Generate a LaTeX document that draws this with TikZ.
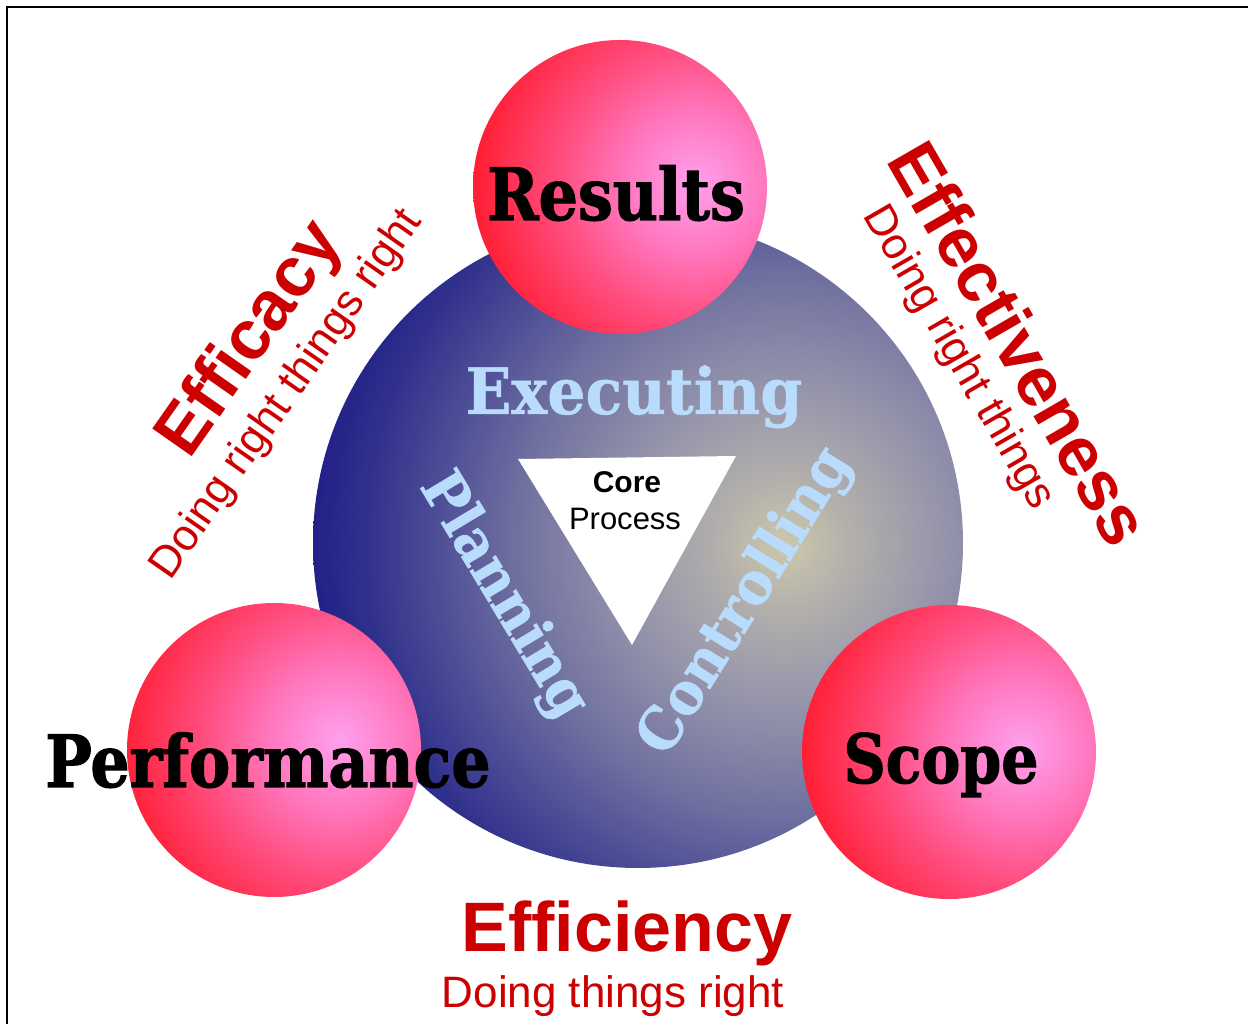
\documentclass[tikz,border=0pt]{standalone}
\usepackage{fontspec}
\setmainfont{Liberation Sans}
\newfontfamily\slabfont[FakeStretch=0.86,FakeBold=1.5]{DejaVu Serif}
\newfontfamily\slabwidefont[FakeStretch=0.94,FakeBold=0.8]{DejaVu Serif}

\definecolor{wordred}{RGB}{204,0,0}
\definecolor{wordblue}{RGB}{185,220,252}
% red balls
\definecolor{ballhi}{RGB}{255,160,238}
\definecolor{ballmid}{RGB}{255,118,188}
\definecolor{balllow}{RGB}{255,78,128}
\definecolor{ballred}{RGB}{255,28,48}
% the big hub
\definecolor{hubA}{RGB}{205,200,170}
\definecolor{hubB}{RGB}{178,175,172}
\definecolor{hubC}{RGB}{145,144,170}
\definecolor{hubD}{RGB}{112,112,160}
\definecolor{hubE}{RGB}{75,75,150}
\definecolor{hubF}{RGB}{48,48,140}
\definecolor{hubG}{RGB}{30,30,135}

\pgfdeclareradialshading{redball}{\pgfpoint{0bp}{0bp}}{color(0bp)=(ballhi); color(8bp)=(ballmid); color(15bp)=(balllow); color(25bp)=(ballred); color(50bp)=(ballred)}
\pgfdeclareradialshading{hubball}{\pgfpoint{0bp}{0bp}}{color(0bp)=(hubA); color(3.5bp)=(hubB); color(9bp)=(hubC); color(14bp)=(hubD); color(18.5bp)=(hubE); color(22bp)=(hubF); color(25bp)=(hubG); color(50bp)=(hubG)}

\tikzset{
  ballword/.style={inner sep=0pt, text=black, font=\slabfont\bfseries\fontsize{72bp}{80bp}\selectfont},
  stageword/.style={inner sep=0pt, text=wordblue, font=\slabwidefont\bfseries\fontsize{58bp}{64bp}\selectfont},
  headword/.style={inner sep=0pt, text=wordred, font=\bfseries\fontsize{70bp}{76bp}\selectfont},
  motto/.style={inner sep=0pt, text=wordred, font=\fontsize{44bp}{48bp}\selectfont}
}

\begin{document}
\begin{tikzpicture}[x=1bp,y=1bp]
        \useasboundingbox (0,0) rectangle (1248,1024);
        \draw [line width=2.4bp] (7,0) -- (7,1017) -- (1248,1017);

        % hub with its light spot on the right
        \begin{scope}
          \clip (638,481) circle (325);
          \shade [shading=hubball] (785,479) circle (480);
        \end{scope}
        \fill [white] (518,565) -- (736,568) -- (632,379) -- cycle;

        % balls
        \begin{scope}
          \clip (620,837) circle (147);
          \shade [shading=redball] (695,841) circle (225);
        \end{scope}
        \begin{scope}
          \clip (274,274) circle (147);
          \shade [shading=redball] (339,284) circle (225);
        \end{scope}
        \begin{scope}
          \clip (949,272) circle (147);
          \shade [shading=redball] (1022,277) circle (225);
        \end{scope}

        \node [ballword, anchor=base] (results) at (616,804) {Results};
        \node [ballword, anchor=base] (performance) at (268,237) {Performance};
        \node [ballword, anchor=base, font=\slabfont\bfseries\fontsize{68bp}{74bp}\selectfont] (scope) at (941,241) {Scope};

        \node [stageword, anchor=base, font=\slabwidefont\bfseries\fontsize{64bp}{70bp}\selectfont] (executing) at (634,610) {Executing};
        \node [stageword, rotate=-59] (planning) at (503,428) {Planning};
        \node [stageword, rotate=58] (controlling) at (746,422) {Controlling};
        \node [anchor=base, inner sep=0pt, font=\bfseries\fontsize{30bp}{32bp}\selectfont] (core) at (627,531) {Core};
        \node [anchor=base, inner sep=0pt, font=\fontsize{31bp}{33bp}\selectfont] (process) at (625,494) {Process};

        \node [headword, rotate=55] (efficacy) at (252,684) {Efficacy};
        \node [motto, rotate=55] (efficacymotto) at (287,629) {Doing right things right};
        \node [headword, rotate=-60] (effectiveness) at (1020,681) {Effectiveness};
        \node [motto, rotate=-60] (effectivenessmotto) at (958,666) {Doing right things};
        \node [headword, anchor=base] (efficiency) at (627,72) {Efficiency};
        \node [motto, anchor=base] (efficiencymotto) at (613,16) {Doing things right};
\end{tikzpicture}
\end{document}
